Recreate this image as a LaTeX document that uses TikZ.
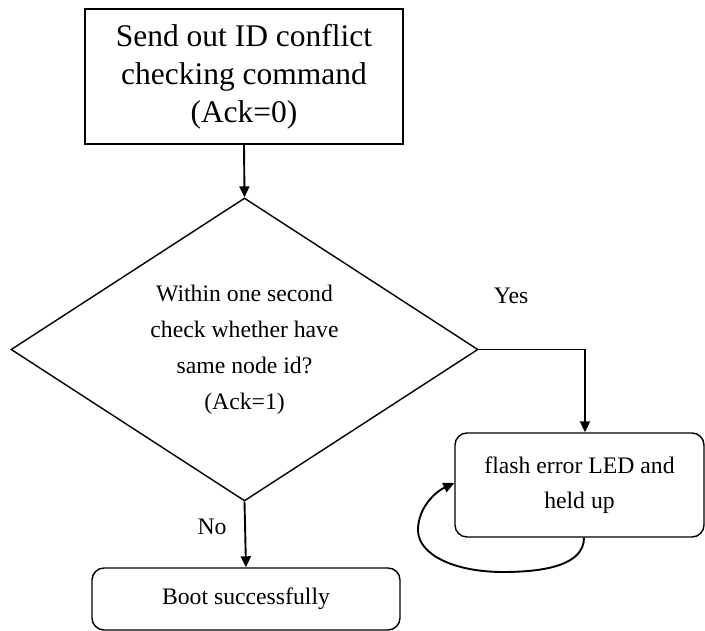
\documentclass[tikz,border=0pt]{standalone}
\usepackage{fontspec}
\setmainfont{Liberation Serif}
\usetikzlibrary{arrows.meta,shapes.geometric}
\begin{document}
\begin{tikzpicture}[x=1pt,y=-1pt,
  boxline/.style={draw=black,line width=1.4pt},
  bigbox/.style={boxline,minimum width=318pt,minimum height=135pt,inner sep=0pt,align=center,
    font=\fontsize{31.5}{38}\selectfont},
  roundbox/.style={boxline,rounded corners=12pt,inner sep=0pt,align=center,
    font=\fontsize{23.7}{35}\selectfont},
  decision/.style={boxline,diamond,inner sep=0pt,minimum width=467pt,minimum height=303pt},
  plain/.style={inner sep=0pt,align=center,font=\fontsize{23.7}{36}\selectfont},
  flow/.style={draw=black,line width=1.9pt,-{Triangle[length=11pt,width=10pt]}},
]
\useasboundingbox (0,0) rectangle (705,631);

% process boxes
\node[bigbox] (send) at (244,76.5) {Send out ID conflict\\checking command\\(Ack=0)};
\node[decision] (dec) at (244.5,349.5) {};
\node[plain] (dectext) at (dec.center) {Within one second\\check whether have\\same node id?\\(Ack=1)};
\node[roundbox,minimum width=249pt,minimum height=104pt] (flash) at (579.5,485)
  {flash error LED and\\held up};
\node[roundbox,minimum width=308pt,minimum height=62pt] (boot) at (246,599) {Boot successfully};

% branch labels
\node[plain] (yes) at (511,296) {Yes};
\node[plain] (no) at (212,527) {No};

% connectors
\draw[flow] (send.south) -- (dec.north);
\draw[flow] (dec.east) -| ([xshift=5.5pt]flash.north);
\draw[flow] (dec.south) -- (boot.north);
\coordinate (loopstart) at ([xshift=4.5pt]flash.south);
\draw[flow] (loopstart) .. controls (584,565) and (545,572) .. (503,572)
  .. controls (455,572) and (418,555) .. (418,530)
  .. controls (418,508) and (435,492) .. ([yshift=2pt]flash.west);
\end{tikzpicture}
\end{document}
